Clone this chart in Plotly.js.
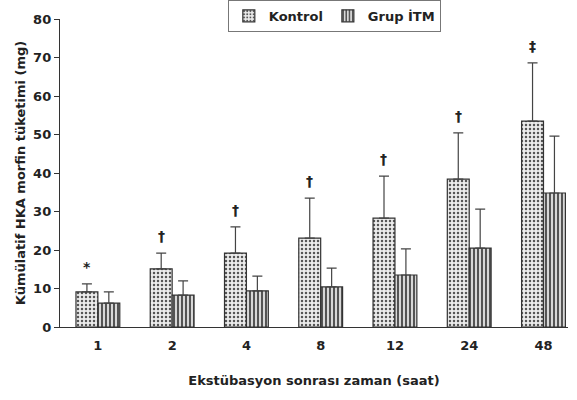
<!DOCTYPE html>
<html><head><meta charset="utf-8">
<script src="https://cdn.plot.ly/plotly-3.0.1.min.js"></script>
<style>body{margin:0;background:#fff}#c{width:577px;height:400px}</style>
</head><body><div id="c"></div>
<script>
const categories = ['1','2','4','8','12','24','48'];
const kontrol = [9.1, 15.1, 19.2, 23.1, 28.3, 38.4, 53.5];
const kontrolErr = [2.1, 4.1, 6.8, 10.4, 10.9, 12.0, 15.1];
const itm = [6.2, 8.3, 9.4, 10.4, 13.5, 20.5, 34.8];
const itmErr = [2.9, 3.7, 3.8, 4.9, 6.8, 10.1, 14.8];
const sigMarks = ['*','†','†','†','†','†','‡'];
const zeros = categories.map(() => 0);

const font = {family: 'DejaVu Sans, Liberation Sans, Arial, sans-serif', color: '#222'};

const traces = [
  {type:'bar', name:'Kontrol', x:categories, y:kontrol,
   marker:{color:'#e4e4e4', line:{color:'#333', width:1.2},
     pattern:{shape:'.', fgcolor:'#555', bgcolor:'#ececec', size:4, solidity:0.3}},
   error_y:{type:'data', array:kontrolErr, arrayminus:zeros, symmetric:false, color:'#444', thickness:1.2, width:5}},
  {type:'bar', name:'Grup İTM', x:categories, y:itm,
   marker:{color:'#bbb', line:{color:'#333', width:1.2},
     pattern:{shape:'|', fgcolor:'#333', bgcolor:'#d8d8d8', size:4, solidity:0.4}},
   error_y:{type:'data', array:itmErr, arrayminus:zeros, symmetric:false, color:'#444', thickness:1.2, width:5}}
];

// category axis: annotation x given as category index
const annotations = categories.map((c,i) => ({
  x:i, y:kontrol[i]+kontrolErr[i], xref:'x', yref:'y', text:sigMarks[i],
  showarrow:false, xshift:-11, yshift:17, font:{...font, size:14, weight:'bold', color:'#222'}
}));

const layout = {
  width:577, height:400,
  margin:{l:60, r:9, t:19, b:73, autoexpand:false},
  paper_bgcolor:'#fff', plot_bgcolor:'#fff',
  barmode:'group', bargap:0.41, bargroupgap:0,
  font:{...font, size:13},
  showlegend:true,
  legend:{orientation:'h', x:0.54, y:1.062, xanchor:'center', yanchor:'top',
    bordercolor:'#777', borderwidth:1, bgcolor:'#fff',
    font:{...font, size:13, weight:'bold'}, itemwidth:30, tracegroupgap:0},
  xaxis:{type:'category', range:[-0.51, 6.33], showline:true, linecolor:'#333', linewidth:1.2,
    ticks:'', showgrid:false, zeroline:false, ticklabelstandoff:6,
    tickfont:{...font, size:13, weight:'bold'},
    title:{text:'Ekstübasyon sonrası zaman (saat)', font:{...font, size:13, weight:'bold'}, standoff:24}},
  yaxis:{range:[0,80], dtick:10, showline:true, linecolor:'#333', linewidth:1.2,
    ticks:'outside', ticklen:5, tickcolor:'#333', showgrid:false, zeroline:false,
    tickfont:{...font, size:13, weight:'bold'},
    title:{text:'Kümülatif HKA morfin tüketimi (mg)', font:{...font, size:13, weight:'bold'}, standoff:4}},
  annotations:annotations
};

Plotly.newPlot('c', traces, layout, {displayModeBar:false, staticPlot:true});
</script></body></html>
